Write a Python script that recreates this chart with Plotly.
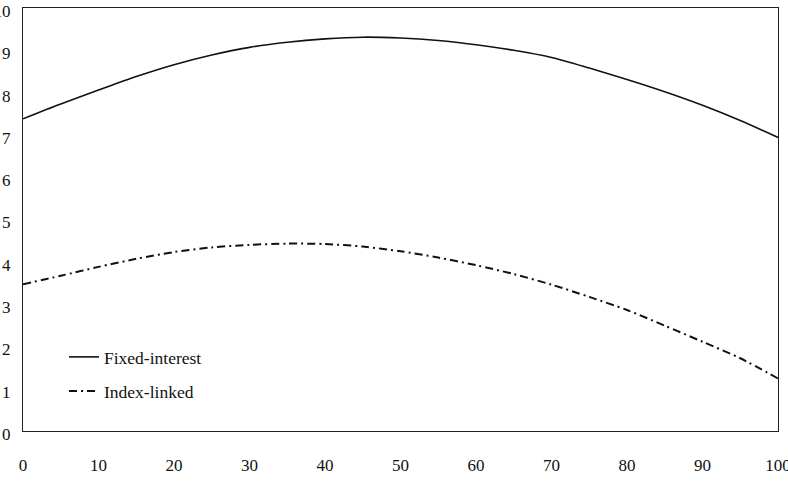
import plotly.graph_objects as go

x_vals = [0, 5, 10, 15, 20, 25, 30, 35, 40, 45, 50, 55, 60, 65, 70, 75, 80, 85, 90, 95, 100]
fixed_interest = [7.38, 7.73, 8.06, 8.38, 8.66, 8.89, 9.07, 9.19, 9.27, 9.31, 9.29, 9.23, 9.13, 9.00, 8.83, 8.58, 8.31, 8.02, 7.70, 7.34, 6.94]
index_linked = [3.47, 3.67, 3.88, 4.07, 4.23, 4.34, 4.40, 4.43, 4.42, 4.36, 4.25, 4.10, 3.92, 3.71, 3.46, 3.17, 2.86, 2.49, 2.11, 1.72, 1.24]

x_ticks = [0, 10, 20, 30, 40, 50, 60, 70, 80, 90, 100]
y_ticks = [0, 1, 2, 3, 4, 5, 6, 7, 8, 9, 10]

W, H = 788, 484
L, R, T, B = 23, 10, 8, 53
pw, ph = W - L - R, H - T - B

def fx(px):
    return (px - L) / pw

def fy(py):
    return (H - B - py) / ph

fig = go.Figure()
fig.add_trace(go.Scatter(
    x=x_vals, y=fixed_interest, mode="lines", name="Fixed-interest",
    line=dict(color="#111111", width=1.6, shape="spline", smoothing=0.8),
    legend="legend",
))
fig.add_trace(go.Scatter(
    x=x_vals, y=index_linked, mode="lines", name="Index-linked",
    line=dict(color="#111111", width=2, dash="8px,4px,2px,4px", shape="spline", smoothing=0.8),
    legend="legend2",
))

font = dict(family="Liberation Serif", size=17, color="#111111")
leg_font = dict(family="Liberation Serif", size=17.5, color="#111111")
leg_common = dict(
    xanchor="left", yanchor="middle", bgcolor="rgba(0,0,0,0)",
    borderwidth=0, font=leg_font,
)
fig.update_layout(
    width=W, height=H,
    margin=dict(l=L, r=R, t=T, b=B, pad=0, autoexpand=False),
    paper_bgcolor="white", plot_bgcolor="white",
    font=font,
    showlegend=True,
    legend=dict(x=fx(64), y=fy(357), **leg_common),
    legend2=dict(x=fx(64), y=fy(391), **leg_common),
    xaxis=dict(
        range=[0, 100], tickvals=x_ticks, ticktext=[str(v) for v in x_ticks],
        showgrid=False, zeroline=False, showline=True, linecolor="#222222",
        linewidth=1.2, mirror=True, ticks="", ticklabelstandoff=18,
        ticklabeloverflow="allow", automargin=False, tickfont=font,
    ),
    yaxis=dict(
        range=[0, 10], tickvals=y_ticks, ticktext=[str(v) for v in y_ticks],
        showgrid=False, zeroline=False, showline=True, linecolor="#222222",
        linewidth=1.2, mirror=True, ticks="", ticklabelstandoff=8,
        ticklabelshift=3,
        ticklabeloverflow="allow", automargin=False, tickfont=font,
    ),
)

fig.write_html("out.html")
